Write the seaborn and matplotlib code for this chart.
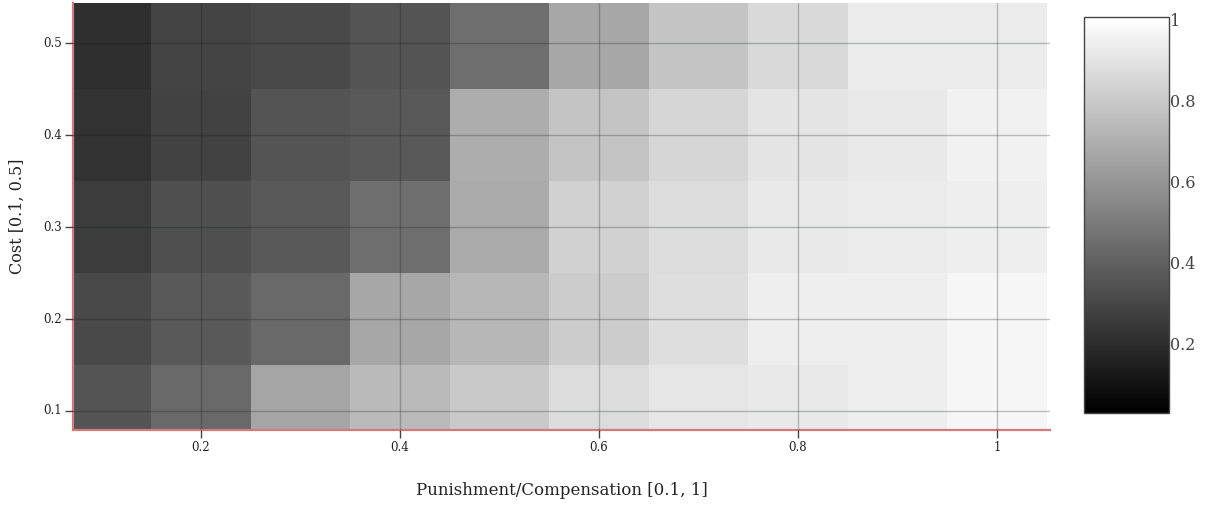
import numpy as np
import pandas as pd
import seaborn as sns
import matplotlib.pyplot as plt

# punishment/compensation on x, cost on y (top row first)
punishment = [0.1, 0.2, 0.3, 0.4, 0.5, 0.6, 0.7, 0.8, 0.9, 1.0]
cost = [0.5, 0.4, 0.3, 0.2, 0.1]

cost_05 = [0.21, 0.29, 0.31, 0.35, 0.45, 0.67, 0.78, 0.86, 0.93, 0.93]
cost_04 = [0.22, 0.28, 0.35, 0.37, 0.69, 0.78, 0.85, 0.90, 0.92, 0.95]
cost_03 = [0.26, 0.33, 0.37, 0.45, 0.68, 0.83, 0.87, 0.92, 0.93, 0.94]
cost_02 = [0.31, 0.37, 0.43, 0.67, 0.73, 0.81, 0.88, 0.94, 0.94, 0.97]
cost_01 = [0.35, 0.43, 0.66, 0.74, 0.80, 0.87, 0.91, 0.92, 0.94, 0.97]

xtick_vals = [0.2, 0.4, 0.6, 0.8, 1.0]
xtick_labels = ['0.2', '0.4', '0.6', '0.8', '1']
ytick_vals = [0.1, 0.2, 0.3, 0.4, 0.5]
ytick_labels = ['0.1', '0.2', '0.3', '0.4', '0.5']
cbar_ticks = [0.2, 0.4, 0.6, 0.8, 1.0]
cbar_labels = ['0.2', '0.4', '0.6', '0.8', '1']

grid = pd.DataFrame([cost_05, cost_04, cost_03, cost_02, cost_01],
                    index=cost, columns=punishment)

sns.set_style('white')
plt.rcParams['font.family'] = ['DejaVu Serif']

fig = plt.figure(figsize=(12.09, 5.08), dpi=100)
ax = fig.add_axes([0.0604, 0.1535, 0.8081, 0.8405])
cax = fig.add_axes([0.8966, 0.187, 0.0703, 0.7795])

sns.heatmap(grid, ax=ax, cbar_ax=cax, cmap='gray', vmin=0.027, vmax=1.007,
            linewidths=0)

# heatmap cells sit at integer slots; map real values onto them
step = 0.1
def xpos(v):
    return v / step - 0.5

def ypos(v):
    return (cost[0] - v) / step + 0.5

ax.set_xlim(xpos(0.0714), xpos(1.0533))
ax.set_ylim(ypos(0.0793), ypos(0.5435))
ax.set_xticks([xpos(v) for v in xtick_vals])
ax.set_xticklabels(xtick_labels, rotation=0)
ax.set_yticks([ypos(v) for v in ytick_vals])
ax.set_yticklabels(ytick_labels, rotation=0)

ax.tick_params(axis='both', labelsize=8.5, labelcolor='#222222', color='#444444',
               length=6, width=1, pad=2)
ax.tick_params(axis='x', bottom=True)
ax.tick_params(axis='y', left=True)

ax.grid(True, color='#101820', alpha=0.26, linewidth=1)
ax.set_axisbelow(False)

for side in ['left', 'bottom']:
    ax.spines[side].set_visible(True)
    ax.spines[side].set_color('#d47a7a')
    ax.spines[side].set_linewidth(1.6)

ax.set_xlabel('Punishment/Compensation [0.1, 1]', fontsize=12, color='#222222')
ax.set_ylabel('Cost [0.1, 0.5]', fontsize=11.5, color='#222222')
ax.xaxis.set_label_coords(0.5, -0.122)
ax.yaxis.set_label_coords(-0.048, 0.5)

cbar = ax.collections[0].colorbar
cbar.outline.set_edgecolor('#444444')
cbar.outline.set_linewidth(1)
cbar.set_ticks(cbar_ticks)
cbar.set_ticklabels(cbar_labels)
cax.tick_params(length=0, pad=1, labelsize=11.5, labelcolor='#444444')

fig.savefig('out.png', dpi=100)
